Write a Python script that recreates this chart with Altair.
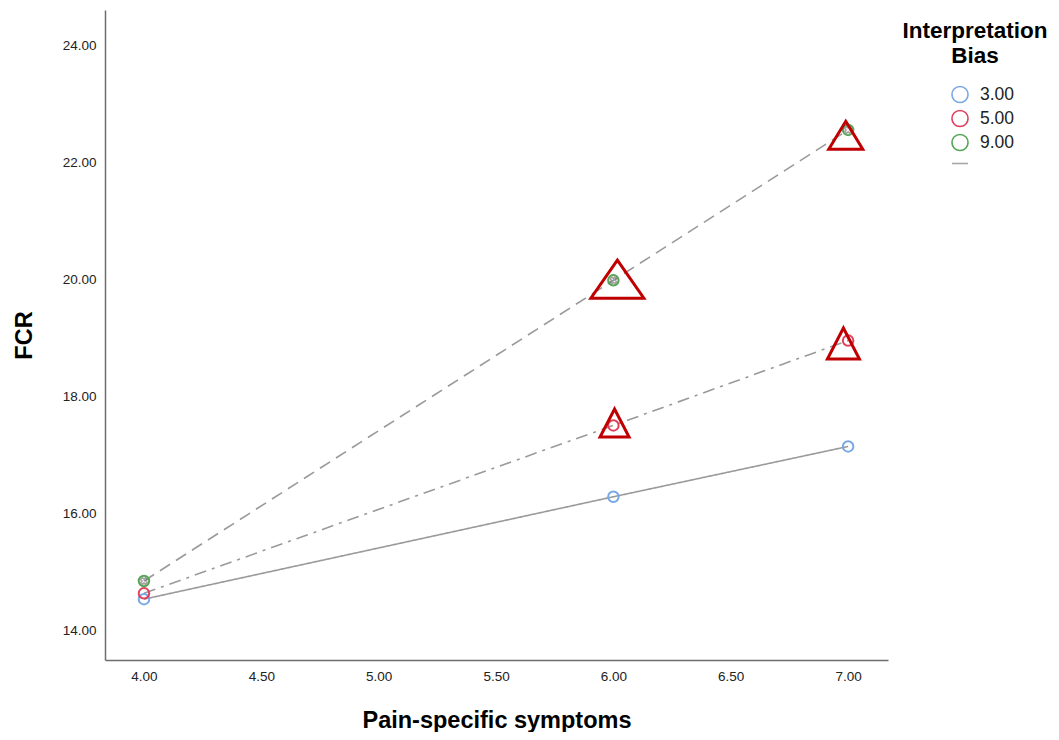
import altair as alt
import pandas as pd

# ---- data ----
x_vals = [4.0, 6.0, 7.0]
bias_levels = ["3.00", "5.00", "9.00"]
fcr_bias3 = [14.53, 16.28, 17.14]
fcr_bias5 = [14.63, 17.50, 18.95]
fcr_bias9 = [14.84, 19.98, 22.55]

# red triangle annotations (centre x, centre y)
tri_x = [6.017, 6.99, 6.005, 6.98]
tri_y = [20.00, 22.46, 17.54, 18.90]

y_ticks = [14, 16, 18, 20, 22, 24]
x_ticks = [4.0, 4.5, 5.0, 5.5, 6.0, 6.5, 7.0]

# annotation styling: pixel width and height/width ratio of each triangle
tri_px_width = [53, 34, 29, 32]
tri_ratio = [0.72, 0.82, 0.97, 0.97]

rows = []
for lvl, ys in zip(bias_levels, [fcr_bias3, fcr_bias5, fcr_bias9]):
    for xv, yv in zip(x_vals, ys):
        rows.append({"x": xv, "y": yv, "bias": lvl})
df = pd.DataFrame(rows)
tri_df = pd.DataFrame({
    "x": tri_x,
    "y": tri_y,
    "s": [w * w for w in tri_px_width],
    "path": [f"M0,-{a}L1,{a}L-1,{a}Z" for a in tri_ratio],
})

FONT = "Liberation Sans"
xscale = alt.Scale(domain=[3.834, 7.17], nice=False, zero=False)
yscale = alt.Scale(domain=[13.49, 24.6], nice=False, zero=False)

X = alt.X("x:Q", scale=xscale, title="Pain-specific symptoms",
          axis=alt.Axis(values=x_ticks, format=".2f", titlePadding=26))
Y = alt.Y("y:Q", scale=yscale, title="FCR",
          axis=alt.Axis(values=y_ticks, format=".2f", titlePadding=26))

lines = alt.Chart(df).mark_line(color="#9a9a9a", strokeWidth=1.6).encode(
    x=X, y=Y,
    detail="bias:N",
    strokeDash=alt.StrokeDash(
        "bias:N",
        scale=alt.Scale(domain=bias_levels, range=[[1, 0], [12, 6, 3, 6], [12, 7]]),
        legend=None,
    ),
)

legend_domain = bias_levels + [" "]
points = alt.Chart(df).mark_point(filled=False, size=110, strokeWidth=2, opacity=1).encode(
    x=X, y=Y,
    color=alt.Color(
        "bias:N",
        scale=alt.Scale(domain=legend_domain,
                        range=["#78a8e6", "#e0405c", "#55a555", "#a8a8a8"]),
        legend=alt.Legend(
            title=["Interpretation", "Bias"],
            orient="none", legendX=797, legendY=10,
            titleFont=FONT, titleFontSize=22.5, titleFontWeight="bold",
            titleColor="#000", titleAlign="center", titleAnchor="middle",
            titleLineHeight=25, titlePadding=18,
            labelFont=FONT, labelFontSize=17.5, labelColor="#222",
            symbolSize=260, symbolStrokeWidth=1.6, symbolOffset=15,
            rowPadding=0, labelOffset=11,
        ),
    ),
    shape=alt.Shape(
        "bias:N",
        scale=alt.Scale(domain=legend_domain,
                        range=["circle", "circle", "circle", "stroke"]),
    ),
)

crosses = alt.Chart(df).transform_filter(alt.datum.bias == "9.00").mark_point(
    shape="cross", angle=45, filled=False, size=45, strokeWidth=1.5, color="#7a7a7a"
).encode(x=X, y=Y)

triangles = alt.Chart(tri_df).mark_point(
    filled=False, stroke="#c00000", strokeWidth=3, opacity=1
).encode(
    x=X, y=Y,
    size=alt.Size("s:Q", scale=None),
    shape=alt.Shape("path:N", scale=None),
)

chart = alt.layer(lines, points, crosses, triangles).properties(
    width=783, height=650,
    autosize=alt.AutoSizeParams(type="none"),
    padding={"left": 97, "top": 2, "right": 163, "bottom": 72},
).configure_view(stroke=None).configure_axis(
    grid=False, ticks=False, domainColor="#6e6e6e", domainWidth=1.5,
    labelFont=FONT, labelFontSize=13.5, labelColor="#222", labelPadding=9,
    titleFont=FONT, titleFontSize=23.5, titleFontWeight="bold", titleColor="#000",
)

chart.save("out.html", embed_options={"renderer": "svg", "actions": False})
